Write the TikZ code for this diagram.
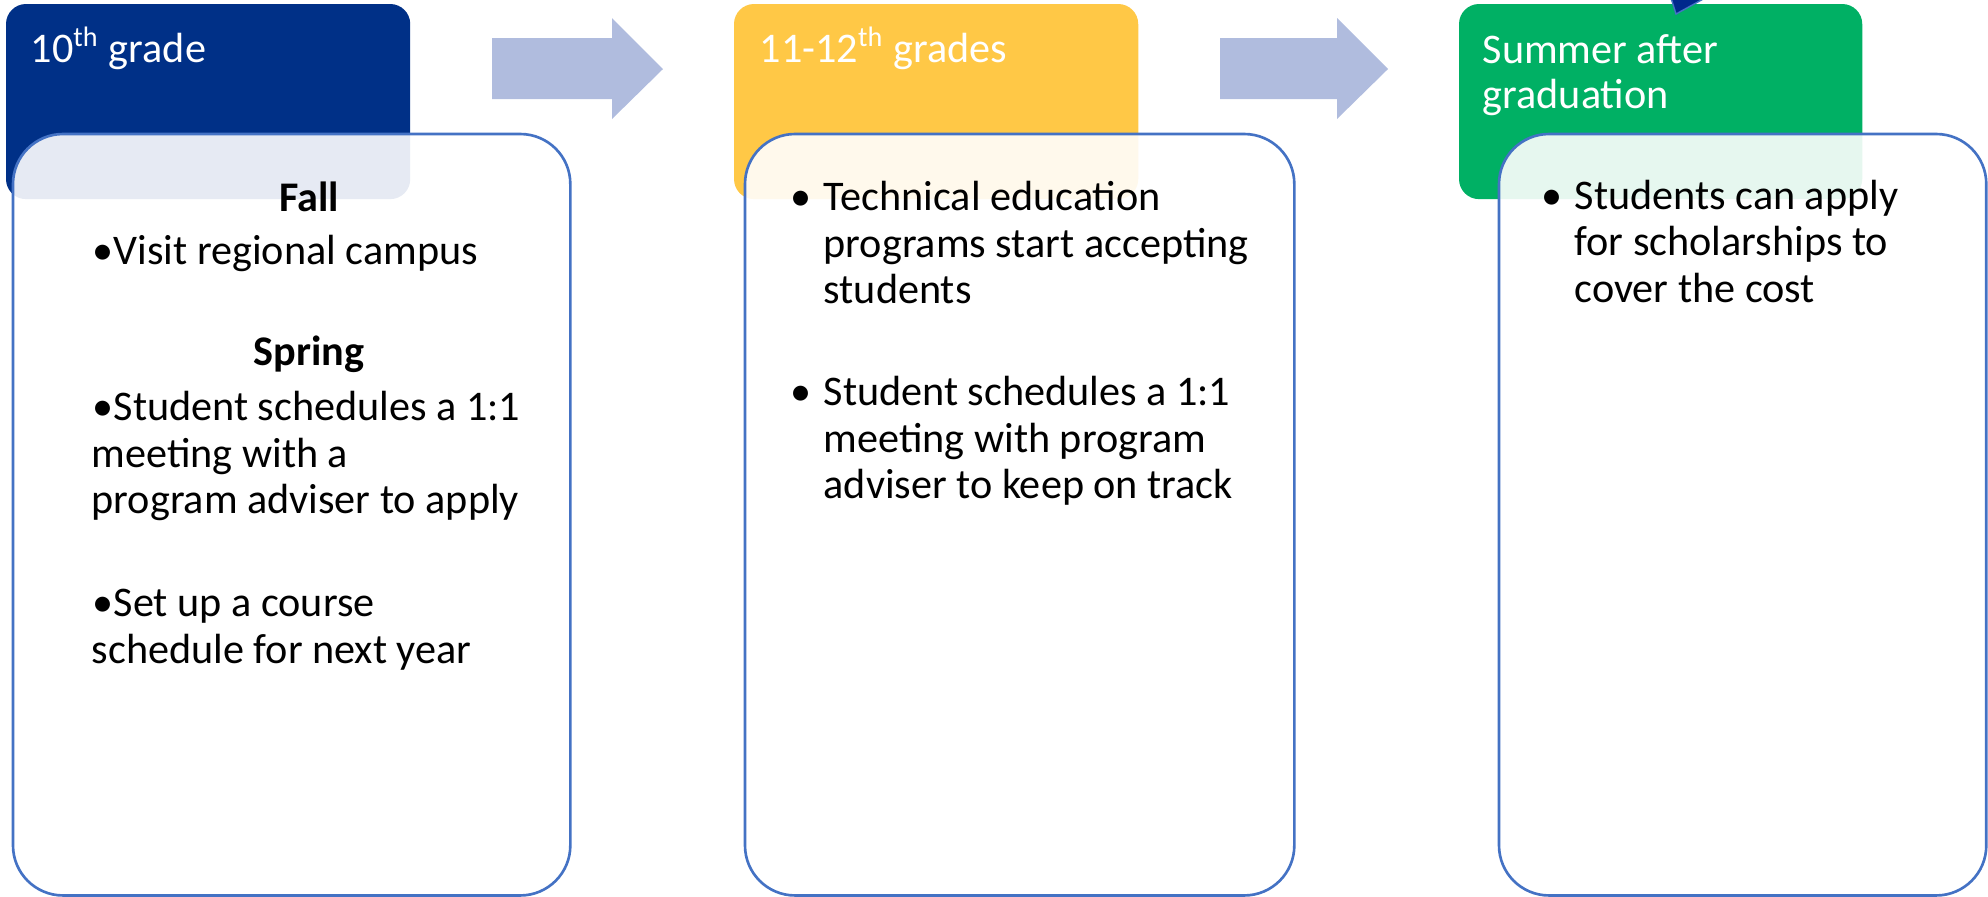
\documentclass[tikz,border=0pt]{standalone}
\usepackage{fontspec}
\setmainfont{Carlito}
\usepackage{xcolor}
\usepackage{tikz}

\definecolor{gradeblue}{RGB}{0,48,135}
\definecolor{gradeyellow}{RGB}{255,200,70}
\definecolor{gradegreen}{RGB}{0,176,100}
\definecolor{stepfill}{RGB}{176,188,222}
\definecolor{boxline}{RGB}{68,114,196}
\definecolor{tipblue}{RGB}{0,40,140}

\begin{document}
\begin{tikzpicture}[x=0.01cm, y=-0.01cm,
% common options for the coloured headers:
head/.style = {rectangle, rounded corners=0.2cm, anchor=north west,
            inner sep=0, outer sep=0, minimum height=1.95cm, minimum width=4.04cm},
% common options for the white boxes:
body/.style = {rectangle, draw=boxline, line width=0.75pt, fill=white,
            fill opacity=0.9, rounded corners=0.5cm, anchor=north west,
            inner sep=0, outer sep=0, minimum height=7.61cm},
% common options for the lines of text:
txt/.style = {anchor=base west, inner sep=0, font=\fontsize{12}{14}\selectfont},
htxt/.style = {txt, text=white},
season/.style = {txt, anchor=base, font=\fontsize{12}{14}\selectfont\bfseries}]
\useasboundingbox (0,0) rectangle (1988,896);
\node[head, fill=gradeblue] (H1) at (6,4) {};
\node[head, fill=gradeyellow] (H2) at (734,4) {};
\node[head, fill=gradegreen, minimum width=4.03cm] (H3) at (1459,4) {};
\filldraw[fill=tipblue, draw=boxline, line width=0.4pt] (1671,-2) -- (1676,14) -- (1705,-2) -- cycle;
\fill[stepfill] (492,38) -- (612,38) -- (612,18) -- (663,69) -- (612,119) -- (612,99) -- (492,99) -- cycle;
\fill[stepfill] (1220,38) -- (1337,38) -- (1337,18) -- (1388,69) -- (1337,119) -- (1337,99) -- (1220,99) -- cycle;
\node[body, minimum width=5.57cm] (B1) at (13,134) {};
\node[body, minimum width=5.49cm] (B2) at (745,134) {};
\node[body, minimum width=4.87cm] (B3) at (1499,134) {};
\node[htxt] (T1) at (30,62) {10\textsuperscript{th} grade};
\node[htxt] (T2) at (759,62) {11-12\textsuperscript{th} grades};
\node[htxt] (T3) at (1482,63) {Summer after};
\node[htxt] (T4) at (1482,108) {graduation};
\node[season] (A1) at (309,211) {Fall};
\node[txt] (A2) at (92,264) {•Visit regional campus};
\node[season] (A3) at (309,365) {Spring};
\node[txt] (A4) at (92,420) {•Student schedules a 1:1};
\node[txt] (A5) at (91,467) {meeting with a};
\node[txt] (A6) at (91,513) {program adviser to apply};
\node[txt] (A7) at (92,616) {•Set up a course};
\node[txt] (A8) at (91,663) {schedule for next year};
\node[txt] (C0) at (790,210) {•};
\node[txt] (C1) at (823,210) {Technical education};
\node[txt] (C2) at (823,257) {programs start accepting};
\node[txt] (C3) at (823,303) {students};
\node[txt] (C4) at (790,405) {•};
\node[txt] (C5) at (823,405) {Student schedules a 1:1};
\node[txt] (C6) at (823,452) {meeting with program};
\node[txt] (C7) at (823,498) {adviser to keep on track};
\node[txt] (D0) at (1541,209) {•};
\node[txt] (D1) at (1574,209) {Students can apply};
\node[txt] (D2) at (1574,255) {for scholarships to};
\node[txt] (D3) at (1574,302) {cover the cost};
\end{tikzpicture}
\end{document}
